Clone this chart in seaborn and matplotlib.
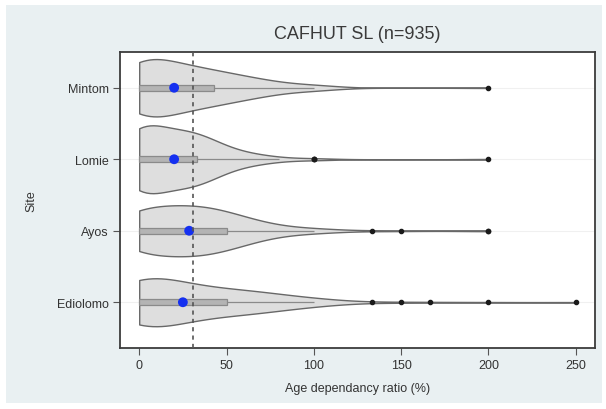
import numpy as np
import pandas as pd
import matplotlib
matplotlib.use("Agg")
import matplotlib.pyplot as plt
from matplotlib.patches import Rectangle
import seaborn as sns

# Age dependency ratio values (%) and household counts per site
sites = ["Mintom", "Lomie", "Ayos", "Ediolomo"]
ratio_values = [0, 10, 20, 25, 28.6, 33.3, 40, 42.9, 50, 60, 66.7, 75, 80,
                100, 133.3, 150, 166.7, 200, 250]
counts_mintom = [70, 30, 20, 15, 8, 14, 8, 12, 16, 12, 8, 6, 5, 9, 0, 0, 0, 1, 0]
counts_lomie = [78, 30, 20, 20, 10, 25, 14, 6, 12, 6, 5, 3, 1, 3, 0, 0, 0, 1, 0]
counts_ayos = [60, 15, 18, 20, 12, 20, 12, 8, 30, 8, 10, 6, 3, 8, 1, 1, 0, 2, 0]
counts_ediolomo = [78, 28, 10, 12, 6, 12, 10, 8, 11, 12, 12, 10, 6, 13, 1, 1, 1, 1, 1]
reference_ratio = 31
title = "CAFHUT SL (n=935)"

site_counts = {
    "Mintom": counts_mintom,
    "Lomie": counts_lomie,
    "Ayos": counts_ayos,
    "Ediolomo": counts_ediolomo,
}
frames = []
for s in sites:
    vals = np.repeat(ratio_values, site_counts[s])
    frames.append(pd.DataFrame({"site": s, "ratio": vals}))
df = pd.concat(frames, ignore_index=True)

sns.set_theme(style="white")
plt.rcParams["font.family"] = ["Liberation Sans", "DejaVu Sans"]

fig = plt.figure(figsize=(6.06, 4.10), dpi=100, facecolor="white")
fig.patches.append(Rectangle((6 / 606, 6 / 410), 596 / 606, 398 / 410,
                             transform=fig.transFigure, facecolor="#e9f0f2",
                             edgecolor="none", zorder=-10))
ax = fig.add_axes([120 / 606, 1 - 349 / 410, 475 / 606, 296 / 410])
ax.set_facecolor("white")

# faint horizontal grid at each site
for i in range(len(sites)):
    ax.axhline(i, color="#f0f0f0", lw=0.8, zorder=0)

sns.violinplot(data=df, x="ratio", y="site", order=sites, orient="h", cut=0,
               inner=None, density_norm="area", width=0.95, bw_adjust=1.5,
               color="#dedede", linecolor="#686868", linewidth=1.0,
               saturation=1, ax=ax)

sns.boxplot(data=df, x="ratio", y="site", order=sites, orient="h", width=0.09,
            whis=1.5, color="#b4b4b4", linecolor="#8a8a8a", linewidth=0.9,
            saturation=1, showcaps=False, fliersize=3,
            flierprops=dict(marker="o", markerfacecolor="#1a1a1a",
                            markeredgecolor="#1a1a1a"),
            medianprops=dict(linewidth=0), ax=ax)

medians = df.groupby("site")["ratio"].median().reindex(sites)
ax.scatter(medians.values, np.arange(len(sites)), s=50, color="#1530f0",
           edgecolor="none", zorder=6)

ax.axvline(reference_ratio, color="#555555", lw=1.2, ls=(0, (2.5, 2.5)), zorder=7)

ax.set_xlim(-11, 261)
ax.set_ylim(3.64, -0.5)
ax.set_xticks([0, 50, 100, 150, 200, 250])
ax.set_xlabel("Age dependancy ratio (%)", fontsize=9, color="#333333", labelpad=8)
ax.set_ylabel("Site", fontsize=9, color="#333333", labelpad=14)
ax.tick_params(axis="both", which="both", length=5, width=0.8, color="#555555",
               labelsize=9, labelcolor="#333333", direction="out",
               bottom=True, left=True, pad=3)
for sp in ax.spines.values():
    sp.set_color("#3c3c3c")
    sp.set_linewidth(1.3)
ax.set_title(title, fontsize=13, color="#3a3a3a", pad=10)

fig.savefig("out.png", dpi=100, facecolor="white")
